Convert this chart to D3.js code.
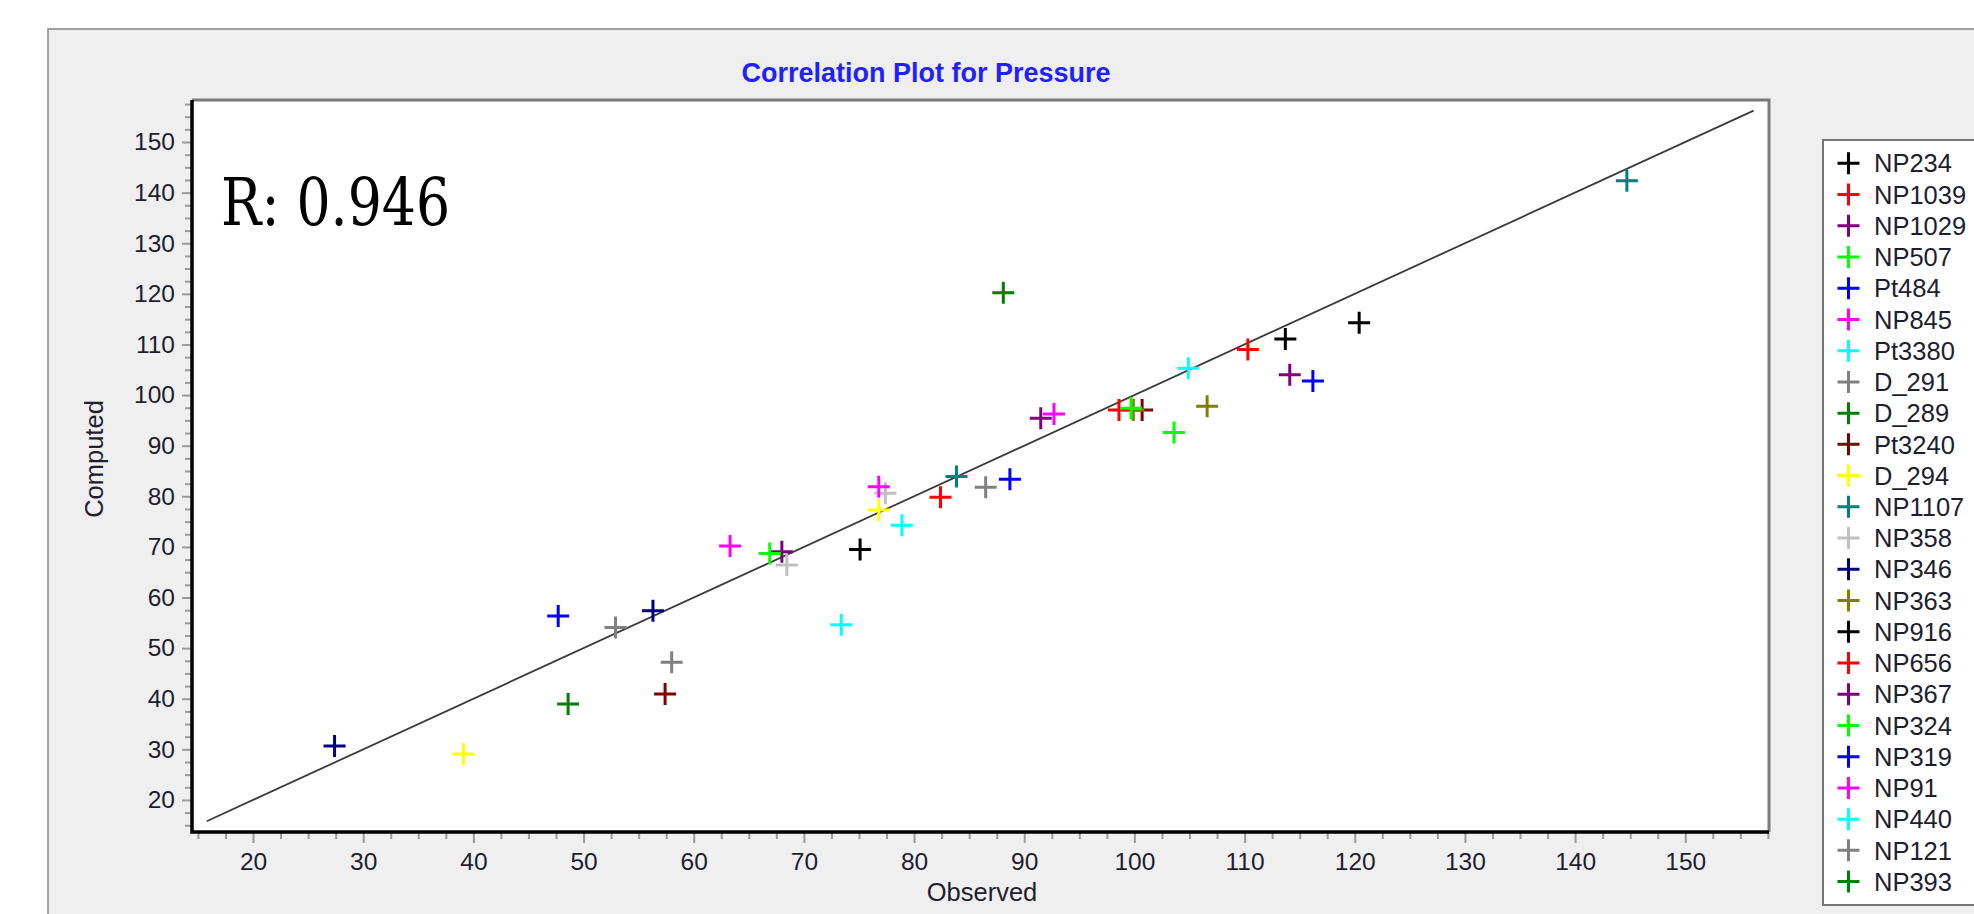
<!DOCTYPE html>
<html>
<head>
<meta charset="utf-8">
<script src="https://cdn.jsdelivr.net/npm/d3@7"></script>
<style>
  body { margin: 0; background: #fff; }
  text { font-family: "Liberation Sans", Arial, sans-serif; }
</style>
</head>
<body>
<script>
// wells, in legend order
var wells = ["NP234", "NP1039", "NP1029", "NP507", "Pt484", "NP845", "Pt3380", "D_291", "D_289", "Pt3240",
             "D_294", "NP1107", "NP358", "NP346", "NP363", "NP916", "NP656", "NP367", "NP324", "NP319",
             "NP91", "NP440", "NP121", "NP393"];
var wellColors = ["#000000", "#ff0000", "#800080", "#00ff00", "#0000ff", "#ff00ff", "#00ffff", "#808080", "#008000", "#800000",
                  "#ffff00", "#008080", "#c0c0c0", "#000080", "#808000", "#000000", "#ff0000", "#800080", "#00ff00", "#0000ff",
                  "#ff00ff", "#00ffff", "#808080", "#008000"];
// observed / computed pressure per well
var observed = [[75.1, 113.7], [82.4, 110.3], [68.0, 114.1], [66.9, 103.6], [47.7, 116.2], [63.3, 92.7], [73.4, 104.9], [52.9, 58.0], [48.6], [57.4, 100.7],
                [39.1, 76.8], [83.85, 144.7], [68.45, 77.4], [27.4, 56.3], [99.9, 106.6], [120.4], [98.6], [91.5], [99.7], [88.7],
                [76.8], [78.9], [86.5], [88.1]];
var computed = [[69.5, 111.1], [79.8, 109.0], [69.05, 104.0], [68.7, 92.6], [56.35, 102.8], [70.2, 96.25], [54.6, 105.3], [54.1, 47.2], [38.96], [40.94, 97.05],
                [29.1, 77.3], [83.9, 142.35], [66.4, 80.6], [30.66, 57.4], [97.05, 97.8], [114.3], [97.05], [95.4], [97.4], [83.35],
                [81.9], [74.3], [81.8], [120.2]];
var xTicks = [20, 30, 40, 50, 60, 70, 80, 90, 100, 110, 120, 130, 140, 150],
    yTicks = [20, 30, 40, 50, 60, 70, 80, 90, 100, 110, 120, 130, 140, 150],
    oneToOne = [15.8, 156.2],
    rValue = "R: 0.946";

var outerWidth = 1974,
    outerHeight = 914,
    plot = {left: 192, top: 100, right: 1769, bottom: 832},
    xScale = d3.scaleLinear().domain([14.46, 157.6]).range([plot.left, plot.right]),
    yScale = d3.scaleLinear().domain([13.67, 158.3]).range([plot.bottom, plot.top]),
    cross = d3.symbol().type(d3.symbolCross);

var svg = d3.select("body").append("svg")
    .attr("width", outerWidth)
    .attr("height", outerHeight);

// grey panel behind everything
svg.append("rect")
    .attr("x", 48).attr("y", 29)
    .attr("width", outerWidth).attr("height", outerHeight)
    .style("fill", "#efefef")
    .style("stroke", "#858585")
    .style("stroke-width", 1.5);

svg.append("text")
    .attr("x", 926).attr("y", 82)
    .attr("text-anchor", "middle")
    .style("font-size", "27px")
    .style("font-weight", "bold")
    .style("fill", "#1f1fff")
    .text("Correlation Plot for Pressure");

// plot area
svg.append("rect")
    .attr("x", plot.left).attr("y", plot.top)
    .attr("width", plot.right - plot.left).attr("height", plot.bottom - plot.top)
    .style("fill", "#fff");

// minor ticks (every 2.5)
var xMinor = d3.range(15, 157.6, 2.5).filter(function(v) { return v % 10 != 0; }),
    yMinor = d3.range(15, 158.3, 2.5).filter(function(v) { return v % 10 != 0; });

svg.append("g")
    .attr("class", "xMinor")
    .attr("transform", "translate(0," + (plot.bottom + 1) + ")")
    .call(d3.axisBottom(xScale).tickValues(xMinor).tickSize(6).tickFormat(""));
svg.append("g")
    .attr("class", "yMinor")
    .attr("transform", "translate(" + (plot.left - 1) + ",0)")
    .call(d3.axisLeft(yScale).tickValues(yMinor).tickSize(6).tickFormat(""));

var xAxis = svg.append("g")
    .attr("class", "xAxis")
    .attr("transform", "translate(0," + (plot.bottom + 1) + ")")
    .call(d3.axisBottom(xScale).tickValues(xTicks).tickSize(10).tickPadding(10));
var yAxis = svg.append("g")
    .attr("class", "yAxis")
    .attr("transform", "translate(" + (plot.left - 1) + ",0)")
    .call(d3.axisLeft(yScale).tickValues(yTicks).tickSize(9).tickPadding(7));

svg.selectAll(".xAxis, .yAxis, .xMinor, .yMinor").select(".domain").remove();
svg.selectAll(".xAxis line, .yAxis line, .xMinor line, .yMinor line")
    .style("stroke", "#9a9a9a")
    .style("stroke-width", 2);
svg.selectAll(".xAxis text, .yAxis text")
    .style("font-size", "24.5px")
    .style("font-family", "'Liberation Sans', Arial, sans-serif")
    .style("fill", "#1e1e30");

// frame: grey top/right, black left/bottom
svg.append("path")
    .attr("d", "M" + plot.left + "," + plot.top + "H" + plot.right + "V" + plot.bottom)
    .style("fill", "none")
    .style("stroke", "#7a7a7a")
    .style("stroke-width", 3);
svg.append("path")
    .attr("d", "M" + plot.left + "," + plot.top + "V" + plot.bottom + "H" + plot.right)
    .style("fill", "none")
    .style("stroke", "#000")
    .style("stroke-width", 3.5);

// axis titles
svg.append("text")
    .attr("x", 982).attr("y", 901)
    .attr("text-anchor", "middle")
    .style("font-size", "25.5px")
    .style("fill", "#1e1e30")
    .text("Observed");
svg.append("text")
    .attr("transform", "translate(103,459) rotate(-90)")
    .attr("text-anchor", "middle")
    .style("font-size", "25.5px")
    .style("fill", "#1e1e30")
    .text("Computed");

// 1:1 line
svg.append("line")
    .attr("x1", xScale(oneToOne[0])).attr("y1", yScale(oneToOne[0]))
    .attr("x2", xScale(oneToOne[1])).attr("y2", yScale(oneToOne[1]))
    .style("stroke", "#3a3a3a")
    .style("stroke-width", 1.8);

// points
var points = [];
wells.forEach(function(w, i) {
    observed[i].forEach(function(o, j) {
        points.push({well: w, color: wellColors[i], obs: o, comp: computed[i][j]});
    });
});

function plus(s) {
    return "M" + (-s) + ",0H" + s + "M0," + (-s) + "V" + s;
}

svg.append("g").attr("class", "points")
    .selectAll("path")
    .data(points)
    .enter().append("path")
    .attr("d", plus(11))
    .attr("transform", function(d) { return "translate(" + xScale(d.obs) + "," + yScale(d.comp) + ")"; })
    .style("stroke", function(d) { return d.color; })
    .style("stroke-width", 3)
    .style("fill", "none");

svg.append("text")
    .attr("x", 221).attr("y", 225)
    .attr("textLength", 229)
    .attr("lengthAdjust", "spacingAndGlyphs")
    .style("font-family", "'DejaVu Serif Condensed', 'DejaVu Serif', serif")
    .style("font-size", "66px")
    .style("fill", "#000")
    .text(rValue);

// legend
var legend = svg.append("g").attr("class", "legend");
legend.append("rect")
    .attr("x", 1823).attr("y", 140)
    .attr("width", 200).attr("height", 765)
    .style("fill", "#fff")
    .style("stroke", "#767676")
    .style("stroke-width", 2);

var item = legend.selectAll(".item")
    .data(wells)
    .enter().append("g")
    .attr("class", "item")
    .attr("transform", function(d, i) { return "translate(1848.5," + (163.3 + i * 31.23) + ")"; });

item.append("path")
    .attr("d", plus(11))
    .style("stroke", function(d, i) { return wellColors[i]; })
    .style("stroke-width", 3)
    .style("fill", "none");

item.append("text")
    .attr("x", 25.5)
    .attr("dy", "0.36em")
    .style("font-size", "25.5px")
    .style("fill", "#1e1e30")
    .text(function(d) { return d; });
</script>
</body>
</html>
